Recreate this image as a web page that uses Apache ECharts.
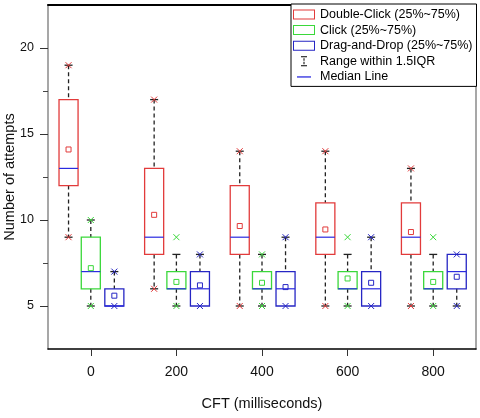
<!DOCTYPE html>
<html><head><meta charset="utf-8">
<script src="https://cdn.jsdelivr.net/npm/echarts@6/dist/echarts.min.js"></script>
<style>html,body{margin:0;padding:0;background:#fff}#c{width:480px;height:418px}</style>
</head><body><div id="c"></div>
<script>
// ---- data ----
const cftLevels = [0, 200, 400, 600, 800];
const yTickValues = [5, 10, 15, 20];
const yMinorTickValues = [7.5, 12.5, 17.5];
const seriesNames = ['Double-Click (25%~75%)', 'Click (25%~75%)', 'Drag-and-Drop (25%~75%)'];
const rangeLegendName = 'Range within 1.5IQR';
const medianLegendName = 'Median Line';
// rows: [whiskerLow, q1, median, q3, whiskerHigh, mean, dataMin, dataMax]
const doubleClickStats = [
  [9, 12, 13, 17, 19, 14.1, 9, 19],
  [6, 8, 9, 13, 17, 10.3, 6, 17],
  [5, 8, 9, 12, 14, 9.65, 5, 14],
  [5, 8, 9, 11, 14, 9.45, 5, 14],
  [5, 8, 9, 11, 13, 9.3, 5, 13]
];
const clickStats = [
  [5, 6, 7, 9, 10, 7.2, 5, 10],
  [5, 6, 6, 7, 8, 6.4, 5, 9],
  [5, 6, 6, 7, 8, 6.35, 5, 8],
  [5, 6, 6, 7, 8, 6.6, 5, 9],
  [5, 6, 6, 7, 8, 6.4, 5, 9]
];
const dragDropStats = [
  [5, 5, 5, 6, 7, 5.6, 5, 7],
  [5, 5, 6, 7, 8, 6.2, 5, 8],
  [5, 5, 6, 7, 9, 6.1, 5, 9],
  [5, 5, 6, 7, 9, 6.35, 5, 9],
  [5, 6, 7, 8, 8, 6.7, 5, 8]
];

// ---- styling ----
const FONT = 'Liberation Sans, Arial, sans-serif';
const colors = ['#e23b3b', '#3ad83a', '#2626c4'];
const MEDIAN_COLOR = '#2a2ae0';
const offsets = [-52, 0, 55];
const BOX_W = 44.5;
const FRAME_ICON = 'path://M0,0h22v10h-22zM1,1v8h20v-8z';

function makeRender(color, offset) {
  return function (params, api) {
    const x = api.value(0) + offset;
    const wlo = api.value(1), q1 = api.value(2), med = api.value(3), q3 = api.value(4),
          whi = api.value(5), mean = api.value(6), dmin = api.value(7), dmax = api.value(8);
    const cx = api.coord([x, 0])[0];
    const Y = v => api.coord([x, v])[1];
    const w = api.size([BOX_W, 0])[0];
    const L = cx - w / 2, R = cx + w / 2;
    const ch = [];
    const dash = { stroke: '#222', lineWidth: 1.3, lineDash: [4, 3] };
    const cap = { stroke: '#222', lineWidth: 1.3 };
    if (whi > q3) {
      ch.push({ type: 'line', shape: { x1: cx, y1: Y(whi), x2: cx, y2: Y(q3) }, style: dash });
      ch.push({ type: 'line', shape: { x1: cx - 4, y1: Y(whi), x2: cx + 4, y2: Y(whi) }, style: cap });
    }
    if (wlo < q1) {
      ch.push({ type: 'line', shape: { x1: cx, y1: Y(q1), x2: cx, y2: Y(wlo) }, style: dash });
      ch.push({ type: 'line', shape: { x1: cx - 4, y1: Y(wlo), x2: cx + 4, y2: Y(wlo) }, style: cap });
    }
    ch.push({ type: 'rect', shape: { x: L, y: Y(q3), width: w, height: Y(q1) - Y(q3) },
      style: { fill: 'rgba(255,255,255,0)', stroke: color, lineWidth: 1.3 } });
    ch.push({ type: 'line', shape: { x1: L, y1: Y(med), x2: R, y2: Y(med) },
      style: { stroke: MEDIAN_COLOR, lineWidth: 1.2 } });
    const my = Y(mean);
    ch.push({ type: 'rect', shape: { x: cx - 2.5, y: my - 2.5, width: 5, height: 5 },
      style: { fill: 'none', stroke: color, lineWidth: 1 } });
    [dmin, dmax].forEach(v => {
      const yy = Y(v), s = 3;
      ch.push({ type: 'line', shape: { x1: cx - s, y1: yy - s, x2: cx + s, y2: yy + s }, style: { stroke: color, lineWidth: 1 } });
      ch.push({ type: 'line', shape: { x1: cx - s, y1: yy + s, x2: cx + s, y2: yy - s }, style: { stroke: color, lineWidth: 1 } });
    });
    return { type: 'group', children: ch };
  };
}

const allStats = [doubleClickStats, clickStats, dragDropStats];
const boxSeries = allStats.map((stats, si) => ({
  name: seriesNames[si],
  type: 'custom',
  xAxisIndex: 0, yAxisIndex: 0,
  renderItem: makeRender(colors[si], offsets[si]),
  encode: { x: 0, y: [1, 2, 3, 4, 5, 6, 7, 8] },
  itemStyle: { color: colors[si] },
  data: cftLevels.map((c, i) => [c].concat(stats[i])),
  clip: false,
  z: 3
}));

const emptyRender = () => null;
const chart = echarts.init(document.getElementById('c'), null, { renderer: 'canvas' });
chart.setOption({
  animation: false,
  backgroundColor: '#fff',
  textStyle: { fontFamily: FONT },
  grid: { left: 48, right: 4, top: 5, bottom: 69, containLabel: false, outerBoundsMode: 'none' },
  legend: {
    orient: 'vertical', left: 291, top: 4,
    padding: [4, 4, 3, 2], itemGap: 2.6, itemWidth: 22, itemHeight: 10,
    borderColor: '#000', borderWidth: 1, backgroundColor: '#fff',
    selectedMode: false,
    textStyle: { fontFamily: FONT, fontSize: 12.5, color: '#000', lineHeight: 13 },
    data: [
      { name: seriesNames[0], icon: FRAME_ICON, itemStyle: { color: colors[0], borderWidth: 0 } },
      { name: seriesNames[1], icon: FRAME_ICON, itemStyle: { color: colors[1], borderWidth: 0 } },
      { name: seriesNames[2], icon: FRAME_ICON, itemStyle: { color: colors[2], borderWidth: 0 } },
      { name: rangeLegendName, icon: 'path://M0,0M22,10M8,0h6v1h-6zM10.5,2h1v2.5h-1zM10.5,5.5h1v2.5h-1zM8,9h6v1h-6z',
        itemStyle: { color: '#000', borderWidth: 0 } },
      { name: medianLegendName, icon: 'path://M0,0M22,10M4,4.4h14v1.3h-14z',
        itemStyle: { color: MEDIAN_COLOR, borderWidth: 0 } }
    ]
  },
  xAxis: [
    {
      type: 'value', position: 'bottom', min: -100, max: 900,
      name: 'CFT (milliseconds)', nameLocation: 'middle', nameGap: 47, nameMoveOverlap: false,
      nameTextStyle: { fontFamily: FONT, fontSize: 14.5, color: '#111' },
      axisLine: { show: true, onZero: false, lineStyle: { color: '#000', width: 1.5 } },
      axisTick: { show: true, customValues: cftLevels, length: 7, lineStyle: { color: '#333' } },
      axisLabel: { show: true, customValues: cftLevels, fontSize: 14, margin: 16, color: '#111', fontFamily: FONT },
      splitLine: { show: false }
    },
    {
      type: 'value', position: 'top', min: -100, max: 900,
      axisLine: { show: true, onZero: false, lineStyle: { color: '#000', width: 2 } },
      axisTick: { show: false }, axisLabel: { show: false }, splitLine: { show: false }
    }
  ],
  yAxis: [
    {
      type: 'value', position: 'left', min: 2.5, max: 22.5, offset: 0,
      name: 'Number of attempts', nameLocation: 'middle', nameGap: 31, nameRotate: 90, nameMoveOverlap: false,
      nameTextStyle: { fontFamily: FONT, fontSize: 14.5, color: '#111' },
      axisLine: { show: true, onZero: false, lineStyle: { color: '#8a8a8a', width: 1.5 } },
      axisTick: { show: true, customValues: yTickValues, length: 8, lineStyle: { color: '#333' } },
      axisLabel: { show: true, customValues: yTickValues, fontSize: 12.5, margin: 14, color: '#111', fontFamily: FONT },
      splitLine: { show: false }
    },
    {
      type: 'value', position: 'left', min: 2.5, max: 22.5, offset: 0,
      axisLine: { show: false, onZero: false },
      axisTick: { show: true, customValues: yMinorTickValues, length: 5, lineStyle: { color: '#444' } },
      axisLabel: { show: false }, splitLine: { show: false }
    },
    {
      type: 'value', position: 'right', min: 2.5, max: 22.5, offset: 0,
      axisLine: { show: true, onZero: false, lineStyle: { color: '#8a8a8a', width: 1.5 } },
      axisTick: { show: false }, axisLabel: { show: false }, splitLine: { show: false }
    }
  ],
  series: boxSeries.concat([
    { name: rangeLegendName, type: 'custom', renderItem: emptyRender, data: [] },
    { name: medianLegendName, type: 'custom', renderItem: emptyRender, data: [] }
  ])
});
</script>
</body></html>
